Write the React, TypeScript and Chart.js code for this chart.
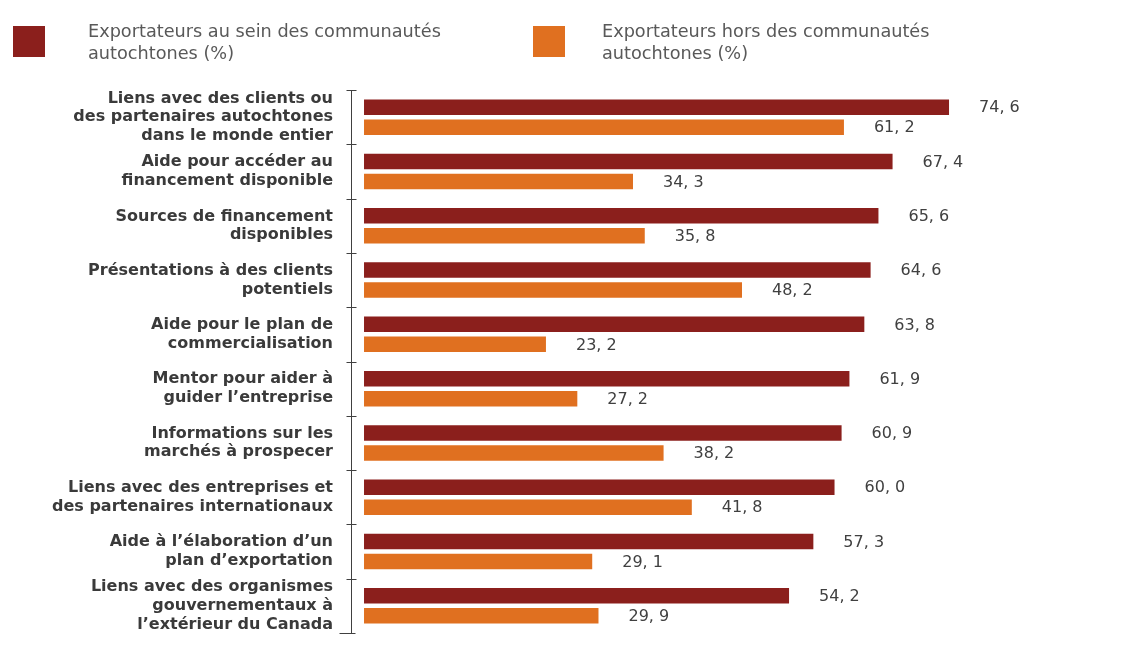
import React, { useEffect, useRef } from "react";
import { Chart, registerables } from "chart.js";

Chart.register(...registerables);

const categories: string[][] = [
  ["Liens avec des clients ou", "des partenaires autochtones", "dans le monde entier"],
  ["Aide pour accéder au", "financement disponible"],
  ["Sources de financement", "disponibles"],
  ["Présentations à des clients", "potentiels"],
  ["Aide pour le plan de", "commercialisation"],
  ["Mentor pour aider à", "guider l’entreprise"],
  ["Informations sur les", "marchés à prospecer"],
  ["Liens avec des entreprises et", "des partenaires internationaux"],
  ["Aide à l’élaboration d’un", "plan d’exportation"],
  ["Liens avec des organismes", "gouvernementaux à", "l’extérieur du Canada"],
];

const insideSeriesName = ["Exportateurs au sein des communautés", "autochtones (%)"];
const outsideSeriesName = ["Exportateurs hors des communautés", "autochtones (%)"];

const insideValues = [74.6, 67.4, 65.6, 64.6, 63.8, 61.9, 60.9, 60.0, 57.3, 54.2];
const outsideValues = [61.2, 34.3, 35.8, 48.2, 23.2, 27.2, 38.2, 41.8, 29.1, 29.9];

const DARK = "#8B1F1C";
const ORANGE = "#E07020";
const FONT = "'DejaVu Sans', sans-serif";

const fmt = (v: number) => v.toFixed(1).replace(".", ", ");

const decorPlugin = {
  id: "decor",
  afterDatasetsDraw(chart: any) {
    const ctx = chart.ctx as CanvasRenderingContext2D;
    const area = chart.chartArea;
    const yScale = chart.scales.y;
    const n = chart.data.labels.length;
    ctx.save();
    // axis line + boundary ticks
    ctx.strokeStyle = "#404040";
    ctx.lineWidth = 1;
    const ax = Math.round(area.left) + 0.5;
    ctx.beginPath();
    ctx.moveTo(ax, Math.round(area.top) + 0.5);
    ctx.lineTo(ax, Math.round(area.bottom) + 0.5);
    for (let i = 0; i <= n; i++) {
      const py = Math.round(yScale.getPixelForValue(i - 0.5)) + 0.5;
      const x0 = i === n ? ax - 12 : ax - 5;
      const x1 = i === n ? ax + 4 : ax + 5;
      ctx.moveTo(x0, py);
      ctx.lineTo(x1, py);
    }
    ctx.stroke();

    // value labels
    ctx.fillStyle = "#404040";
    ctx.font = `16px ${FONT}`;
    ctx.textAlign = "left";
    ctx.textBaseline = "middle";
    chart.data.datasets.forEach((ds: any, di: number) => {
      const meta = chart.getDatasetMeta(di);
      meta.data.forEach((bar: any, i: number) => {
        ctx.fillText(fmt(ds.data[i]), bar.x + 30, bar.y + 1);
      });
    });

    // legend
    const items = [
      { x: 13, tx: 88, color: DARK, text: insideSeriesName },
      { x: 533, tx: 602, color: ORANGE, text: outsideSeriesName },
    ];
    ctx.font = `17.7px ${FONT}`;
    ctx.textBaseline = "alphabetic";
    items.forEach((it) => {
      ctx.fillStyle = it.color;
      ctx.fillRect(it.x, 26, 32, 31);
      ctx.fillStyle = "#595959";
      it.text.forEach((line, li) => {
        ctx.fillText(line, it.tx, 37 + li * 22);
      });
    });
    ctx.restore();
  },
};

export default function App() {
  const ref = useRef<HTMLCanvasElement | null>(null);
  useEffect(() => {
    if (!ref.current) return;
    const chart = new Chart(ref.current, {
      type: "bar",
      data: {
        labels: categories,
        datasets: [
          {
            label: insideSeriesName.join(" "),
            data: insideValues,
            backgroundColor: DARK,
            categoryPercentage: 0.737,
            barPercentage: 0.775,
          },
          {
            label: outsideSeriesName.join(" "),
            data: outsideValues,
            backgroundColor: ORANGE,
            categoryPercentage: 0.737,
            barPercentage: 0.775,
          },
        ],
      },
      options: {
        indexAxis: "y",
        animation: false,
        responsive: false,
        maintainAspectRatio: false,
        layout: { padding: { top: 90, bottom: 22, left: 0, right: 35 } },
        plugins: {
          legend: { display: false },
          tooltip: { enabled: false },
        },
        scales: {
          x: {
            display: false,
            min: -1.66,
            max: 95,
          },
          y: {
            grid: { display: false },
            border: { display: false },
            afterFit: (scale: any) => {
              scale.width = 351;
              scale.paddingTop = 0;
              scale.paddingBottom = 0;
            },
            ticks: {
              autoSkip: false,
              color: "#3a3a3a",
              padding: 10,
              font: { family: FONT, size: 16, weight: "bold", lineHeight: 1.17 },
            },
          },
        },
      },
      plugins: [decorPlugin],
    });
    return () => chart.destroy();
  }, []);
  return (
    <div style={{ position: "fixed", left: 0, top: 0, width: 1144, height: 655, background: "#fff" }}>
      <canvas ref={ref} width={1144} height={655} style={{ width: 1144, height: 655 }} />
    </div>
  );
}
